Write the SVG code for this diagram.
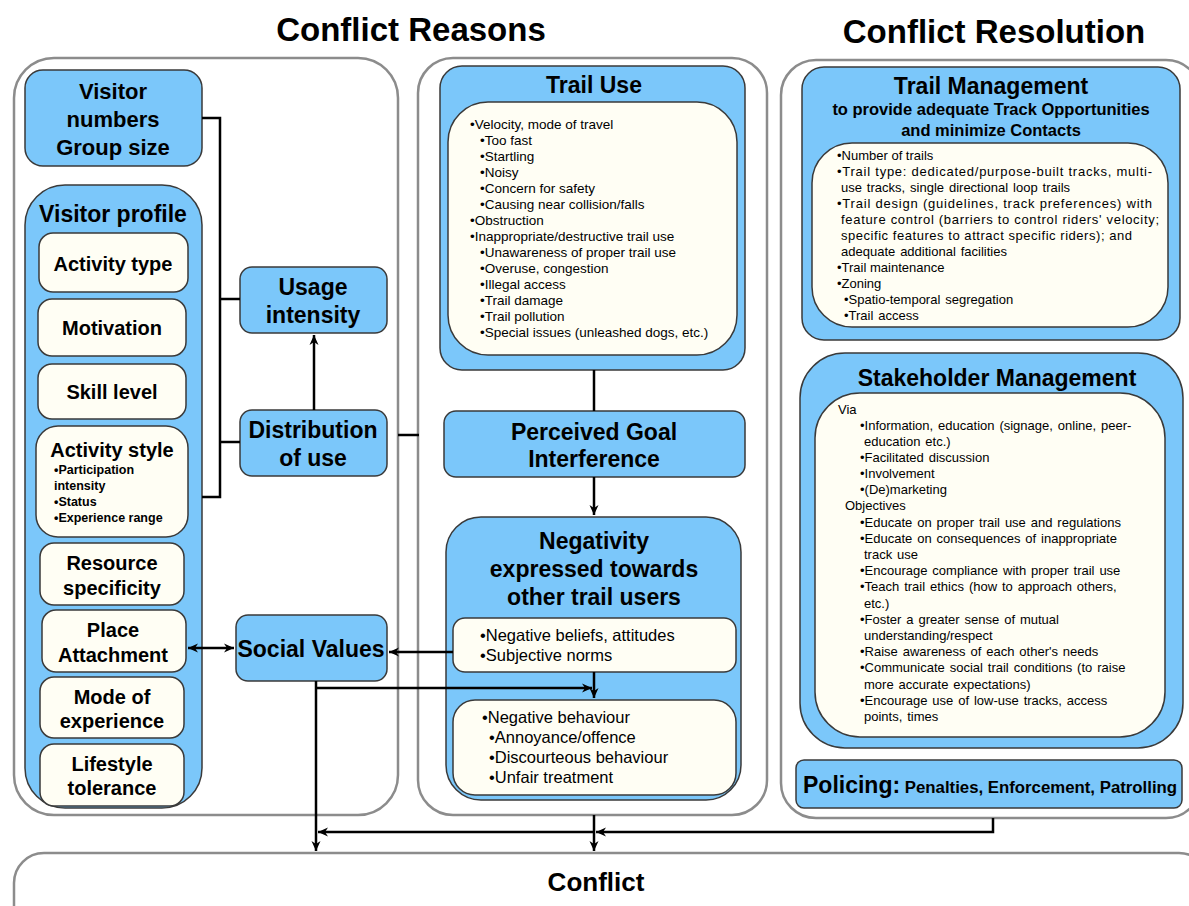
<svg xmlns="http://www.w3.org/2000/svg" width="1189" height="906" viewBox="0 0 1189 906">
<style>
text{font-family:"Liberation Sans",Arial,sans-serif;fill:#000}
.panel{fill:#fff;stroke:#8c8c8c;stroke-width:2.5}
.blue{fill:#7BC7FA;stroke:#3a3a3a;stroke-width:1.5}
.cream{fill:#FFFEF4;stroke:#3a3a3a;stroke-width:1.5}
.h{font-weight:bold;font-size:23px;text-anchor:middle}
.s{font-weight:bold;font-size:20px;text-anchor:middle}
.t{font-size:13.5px}
.r{font-size:13px}
.w{word-spacing:1.3px}
.n{font-size:16.5px}
.title{font-weight:bold;font-size:33px;text-anchor:middle}
.ln{fill:none;stroke:#000;stroke-width:2.5}
</style>
<defs>
<marker id="ah" markerUnits="userSpaceOnUse" markerWidth="11" markerHeight="10" refX="10" refY="5" orient="auto-start-reverse">
<path d="M0,0.5 L10,5 L0,9.5 L3,5 z" fill="#000"/>
</marker>
</defs>

<g id="titles">
<text class="title" x="411" y="41">Conflict Reasons</text>
<text class="title" x="994" y="43">Conflict Resolution</text>
</g>

<g id="panels">
<rect class="panel" x="14" y="58" width="384" height="757" rx="40"/>
<rect class="panel" x="418" y="58" width="349" height="757" rx="35"/>
<rect class="panel" x="781" y="60" width="420" height="758" rx="35"/>
</g>

<g id="visitor-numbers">
<rect class="blue" x="25" y="70" width="177" height="96" rx="18"/>
<text class="h" x="113" y="99" style="font-size:22px">Visitor</text>
<text class="h" x="113" y="127" style="font-size:22px">numbers</text>
<text class="h" x="113" y="155" style="font-size:22px">Group size</text>
</g>

<g id="visitor-profile">
<rect class="blue" x="25" y="185" width="177" height="623" rx="40"/>
<text class="h" x="113" y="222">Visitor profile</text>
</g>
<g id="activity-type">
<rect class="cream" x="39" y="233" width="149" height="59" rx="14"/>
<text class="s" x="113" y="271">Activity type</text>
</g>
<g id="motivation">
<rect class="cream" x="38" y="299" width="148" height="57" rx="14"/>
<text class="s" x="112" y="335">Motivation</text>
</g>
<g id="skill-level">
<rect class="cream" x="38" y="364" width="148" height="55" rx="14"/>
<text class="s" x="112" y="399">Skill level</text>
</g>
<g id="activity-style">
<rect class="cream" x="36" y="426" width="152" height="111" rx="22"/>
<text class="s" x="112" y="457">Activity style</text>
<text x="54" y="474" style="font-weight:bold;font-size:12.5px">•Participation</text>
<text x="54" y="490" style="font-weight:bold;font-size:12.5px">intensity</text>
<text x="54" y="506" style="font-weight:bold;font-size:12.5px">•Status</text>
<text x="54" y="522" style="font-weight:bold;font-size:12.5px">•Experience  range</text>
</g>
<g id="resource-specificity">
<rect class="cream" x="40" y="543" width="144" height="62" rx="14"/>
<text class="s" x="112" y="570">Resource</text>
<text class="s" x="112" y="595">specificity</text>
</g>
<g id="place-attachment">
<rect class="cream" x="42" y="610" width="144" height="62" rx="14"/>
<text class="s" x="113" y="637">Place</text>
<text class="s" x="113" y="662">Attachment</text>
</g>
<g id="mode-of-experience">
<rect class="cream" x="40" y="677" width="144" height="61" rx="14"/>
<text class="s" x="112" y="704">Mode of</text>
<text class="s" x="112" y="728">experience</text>
</g>
<g id="lifestyle-tolerance">
<rect class="cream" x="40" y="744" width="144" height="62" rx="14"/>
<text class="s" x="112" y="771">Lifestyle</text>
<text class="s" x="112" y="795">tolerance</text>
</g>

<g id="usage-intensity">
<rect class="blue" x="240" y="267" width="147" height="66" rx="12"/>
<text class="h" x="313" y="295">Usage</text>
<text class="h" x="313" y="323">intensity</text>
</g>
<g id="distribution-of-use">
<rect class="blue" x="240" y="410" width="147" height="66" rx="12"/>
<text class="h" x="313" y="438">Distribution</text>
<text class="h" x="313" y="466">of use</text>
</g>
<g id="social-values">
<rect class="blue" x="236" y="615" width="151" height="66" rx="12"/>
<text class="h" x="311" y="657">Social Values</text>
</g>

<g id="trail-use">
<rect class="blue" x="440" y="66" width="305" height="304" rx="22"/>
<text class="h" x="594" y="93">Trail Use</text>
<rect class="cream" x="448" y="102" width="289" height="253" rx="40"/>
<text class="t" x="470" y="129">•Velocity, mode of travel</text>
<text class="t" x="480" y="145">•Too fast</text>
<text class="t" x="480" y="161">•Startling</text>
<text class="t" x="480" y="177">•Noisy</text>
<text class="t" x="480" y="193">•Concern for safety</text>
<text class="t" x="480" y="209">•Causing near collision/falls</text>
<text class="t" x="470" y="225">•Obstruction</text>
<text class="t" x="470" y="241">•Inappropriate/destructive trail use</text>
<text class="t" x="480" y="257">•Unawareness of proper trail use</text>
<text class="t" x="480" y="273">•Overuse, congestion</text>
<text class="t" x="480" y="289">•Illegal access</text>
<text class="t" x="480" y="305">•Trail damage</text>
<text class="t" x="480" y="321">•Trail pollution</text>
<text class="t" x="480" y="337">•Special issues (unleashed dogs, etc.)</text>
</g>

<g id="perceived-goal-interference">
<rect class="blue" x="444" y="411" width="301" height="66" rx="12"/>
<text class="h" x="594" y="440">Perceived Goal</text>
<text class="h" x="594" y="467">Interference</text>
</g>

<g id="negativity">
<rect class="blue" x="446" y="517" width="295" height="283" rx="35"/>
<text class="h" x="594" y="549">Negativity</text>
<text class="h" x="594" y="577">expressed towards</text>
<text class="h" x="594" y="605">other trail users</text>
</g>
<g id="negative-beliefs">
<rect class="cream" x="453" y="618" width="283" height="54" rx="12"/>
<text class="n" x="480" y="641">•Negative beliefs, attitudes</text>
<text class="n" x="480" y="661">•Subjective norms</text>
</g>
<g id="negative-behaviour">
<rect class="cream" x="453" y="700" width="283" height="95" rx="22"/>
<text class="n" x="482" y="723">•Negative behaviour</text>
<text class="n" x="489" y="743">•Annoyance/offence</text>
<text class="n" x="489" y="763">•Discourteous behaviour</text>
<text class="n" x="489" y="783">•Unfair treatment</text>
</g>

<g id="trail-management">
<rect class="blue" x="802" y="67" width="378" height="273" rx="22"/>
<text class="h" x="991" y="94">Trail Management</text>
<text x="991" y="115" style="font-weight:bold;font-size:16.5px;text-anchor:middle">to provide adequate Track Opportunities</text>
<text x="991" y="136" style="font-weight:bold;font-size:16.5px;text-anchor:middle">and minimize Contacts</text>
<rect class="cream" x="812" y="143" width="356" height="184" rx="40"/>
<text class="r" x="837" y="160">•Number of trails</text>
<text class="r" x="837" y="176" textLength="315" lengthAdjust="spacing">•Trail type: dedicated/purpose-built tracks, multi-</text>
<text class="r w" x="841" y="192">use tracks, single directional loop trails</text>
<text class="r" x="837" y="208" textLength="315" lengthAdjust="spacing">•Trail design (guidelines, track preferences) with</text>
<text class="r" x="841" y="224" textLength="318" lengthAdjust="spacing">feature control (barriers to control riders' velocity;</text>
<text class="r" x="841" y="240" textLength="291" lengthAdjust="spacing">specific features to attract specific riders); and</text>
<text class="r w" x="841" y="256">adequate additional facilities</text>
<text class="r" x="837" y="272">•Trail maintenance</text>
<text class="r" x="837" y="288">•Zoning</text>
<text class="r w" x="844" y="304">•Spatio-temporal segregation</text>
<text class="r w" x="844" y="320">•Trail access</text>
</g>

<g id="stakeholder-management">
<rect class="blue" x="800" y="353" width="383" height="395" rx="45"/>
<text class="h" x="997" y="386">Stakeholder Management</text>
<rect class="cream" x="815" y="393" width="350" height="344" rx="45"/>
<text class="r w" x="838" y="414">Via</text>
<text class="r w" x="860" y="430">•Information, education (signage, online, peer-</text>
<text class="r w" x="864" y="446">education etc.)</text>
<text class="r w" x="860" y="462">•Facilitated discussion</text>
<text class="r w" x="860" y="478">•Involvement</text>
<text class="r w" x="860" y="494">•(De)marketing</text>
<text class="r w" x="845" y="510">Objectives</text>
<text class="r w" x="860" y="527">•Educate on proper trail use and regulations</text>
<text class="r w" x="860" y="543">•Educate on consequences of inappropriate</text>
<text class="r w" x="864" y="559">track use</text>
<text class="r w" x="860" y="575">•Encourage compliance with proper trail use</text>
<text class="r w" x="860" y="591">•Teach trail ethics (how to approach others,</text>
<text class="r w" x="864" y="608">etc.)</text>
<text class="r w" x="860" y="624">•Foster a greater sense of mutual</text>
<text class="r w" x="864" y="640">understanding/respect</text>
<text class="r w" x="860" y="656">•Raise awareness of each other's needs</text>
<text class="r w" x="860" y="672">•Communicate social trail conditions (to raise</text>
<text class="r w" x="864" y="689">more accurate expectations)</text>
<text class="r w" x="860" y="705">•Encourage use of low-use tracks, access</text>
<text class="r w" x="864" y="721">points, times</text>
</g>

<g id="policing">
<rect class="blue" x="796" y="760" width="386" height="48" rx="8"/>
<text x="803" y="793" style="font-weight:bold;font-size:23px">Policing:<tspan style="font-size:16.8px"> Penalties, Enforcement, Patrolling</tspan></text>
</g>

<g id="conflict">
<rect class="panel" x="14" y="853" width="1195" height="90" rx="30"/>
<text x="596" y="891" style="font-weight:bold;font-size:26px;text-anchor:middle">Conflict</text>
</g>

<g id="connectors">
<path class="ln" d="M202,118 H220 V497 H202"/>
<path class="ln" d="M220,299 H240"/>
<path class="ln" d="M220,442 H240"/>
<path class="ln" d="M314,410 V335" marker-end="url(#ah)"/>
<path class="ln" d="M398,435 H419"/>
<path class="ln" d="M594,370 V411"/>
<path class="ln" d="M594,477 V515" marker-end="url(#ah)"/>
<path class="ln" d="M453,652 H389" marker-end="url(#ah)"/>
<path class="ln" d="M188,648 H234" marker-start="url(#ah)" marker-end="url(#ah)"/>
<path class="ln" d="M316,681 V851" marker-end="url(#ah)"/>
<path class="ln" d="M316,688 H592" marker-end="url(#ah)"/>
<path class="ln" d="M594,672 V698" marker-end="url(#ah)"/>
<path class="ln" d="M594,815 V851" marker-end="url(#ah)"/>
<path class="ln" d="M993,818 V832 H596" marker-end="url(#ah)"/>
<path class="ln" d="M594,832 H318" marker-end="url(#ah)"/>
</g>
</svg>
